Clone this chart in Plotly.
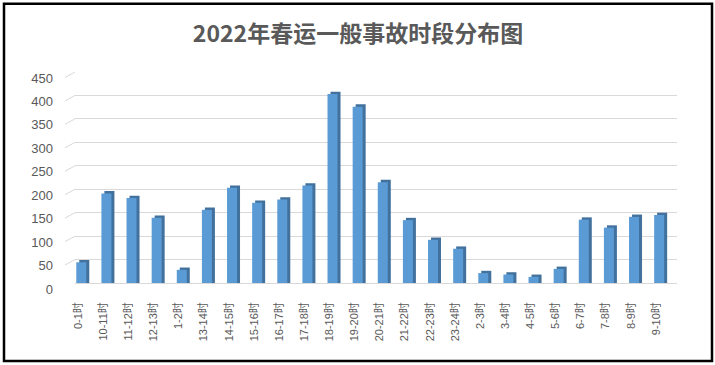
import plotly.graph_objects as go

categories = ["0-1时", "10-11时", "11-12时", "12-13时", "1-2时", "13-14时", "14-15时",
              "15-16时", "16-17时", "17-18时", "18-19时", "19-20时", "20-21时", "21-22时",
              "22-23时", "23-24时", "2-3时", "3-4时", "4-5时", "5-6时", "6-7时", "7-8时",
              "8-9时", "9-10时"]
values = [49, 196, 186, 144, 33, 161, 208, 176, 183, 213, 408, 381, 220, 139,
          97, 78, 26, 23, 18, 35, 140, 123, 146, 150]
y_ticks = [0, 50, 100, 150, 200, 250, 300, 350, 400, 450]
title_text = "2022年春运一般事故时段分布图"

W, H = 715, 365
L, R, T, B = 75, 677, 72, 283  # plot area in pixels
PW, PH = R - L, B - T
YMAX = 450
upp = YMAX / PH  # data units per pixel

def px(x):
    return (x - L) / PW

def py(y):
    return (B - y) / PH

n = len(categories)
spacing = PW / (23.71 + 0.25)
bar_w = 10 / spacing
side = 3 / spacing

front_base = -5 * upp
shadow_base = -4 * upp
top_drop = 2.3 * upp

idx = list(range(n))

fig = go.Figure()
# side + top faces (shadow)
fig.add_trace(go.Bar(
    x=idx, y=[v - shadow_base for v in values], base=shadow_base,
    width=bar_w, offset=-bar_w / 2 + side,
    marker=dict(color="#41719c", line=dict(width=0)),
    hoverinfo="skip", showlegend=False))
# front face
fig.add_trace(go.Bar(
    x=idx, y=[v - top_drop - front_base for v in values], base=front_base,
    width=bar_w, offset=-bar_w / 2,
    marker=dict(color="#5b9bd5", line=dict(width=0)),
    customdata=values, hovertemplate="%{customdata}<extra></extra>",
    showlegend=False))

shapes = []
# slanted stubs at the left of the back wall grid
for t in y_ticks:
    shapes.append(dict(type="line", xref="paper", yref="y",
                       x0=px(65), x1=px(L), y0=t - 5.5 * upp, y1=t,
                       line=dict(color="#d9d9d9", width=1)))
# outer black frame
shapes.append(dict(type="rect", xref="paper", yref="paper",
                   x0=px(4), x1=px(712), y0=py(361), y1=py(3.7),
                   line=dict(color="#000000", width=2.5), layer="above"))

fig.update_layout(
    width=W, height=H,
    margin=dict(l=L, r=W - R, t=T, b=H - B, pad=0),
    paper_bgcolor="white", plot_bgcolor="white",
    barmode="overlay",
    font=dict(family="Liberation Sans, Noto Sans CJK SC", color="#595959"),
    title=dict(text=title_text, x=358 / W, xanchor="center",
               y=1 - 33.5 / H, yanchor="middle", yref="container",
               font=dict(family="Noto Sans CJK SC", size=23, color="#595959",
                         weight="bold")),
    shapes=shapes,
    xaxis=dict(
        range=[-0.25, 23.71], tickmode="array", tickvals=idx, ticktext=categories,
        tickangle=-90, showgrid=False, zeroline=False, showline=False,
        ticks="", tickfont=dict(size=11, color="#595959",
                                family="Liberation Sans, Noto Sans CJK SC"),
        ticklabelstandoff=16, ticklabelshift=-3, fixedrange=True),
    yaxis=dict(
        range=[0, YMAX], tickmode="array", tickvals=y_ticks,
        showgrid=True, gridcolor="#d9d9d9", gridwidth=1,
        zeroline=True, zerolinecolor="#d9d9d9", zerolinewidth=1,
        showline=False, ticks="",
        tickfont=dict(size=13, color="#595959", family="Liberation Sans"),
        ticklabelstandoff=21, ticklabelshift=6, fixedrange=True),
)

fig.write_html("out.html", config={"displayModeBar": False},
               post_script="document.body.style.margin='0';document.body.style.overflow='hidden';")
